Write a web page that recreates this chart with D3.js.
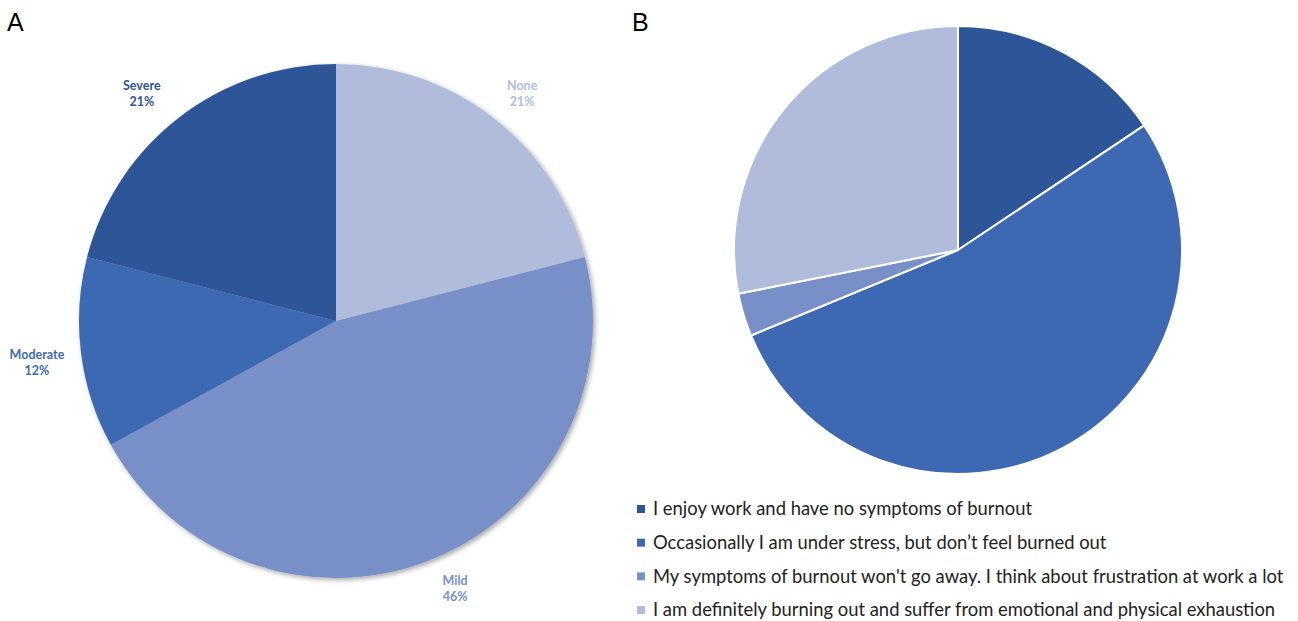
<!DOCTYPE html>
<html>
<head>
<meta charset="utf-8">
<script src="https://cdn.jsdelivr.net/npm/d3@7"></script>
<style>
  html, body { margin: 0; padding: 0; background: #fff; }
  svg { display: block; }
</style>
</head>
<body>
<svg id="chart" width="1298" height="621"></svg>
<script>
// Panel A: burnout severity
const severityCategories = ["None", "Mild", "Moderate", "Severe"];
const severityValues = [21, 46, 12, 21];
const severityColors = ["#B1BCDD", "#798FC8", "#3E69B2", "#2E5597"];

// Panel B: self-reported burnout statements
const statementCategories = [
  "I enjoy work and have no symptoms of burnout",
  "Occasionally I am under stress, but don\u2019t feel burned out",
  "My symptoms of burnout won't go away. I think about frustration at work a lot",
  "I am definitely burning out and suffer from emotional and physical exhaustion"
];
const statementValues = [15.6, 53.1, 3.1, 28.1];
const statementColors = ["#2E5597", "#3E69B2", "#798FC8", "#B1BCDD"];

const svg = d3.select("#chart");

// soft drop shadow used on panel A
const defs = svg.append("defs");
const f = defs.append("filter").attr("id", "shadow")
  .attr("x", "-10%").attr("y", "-10%").attr("width", "120%").attr("height", "120%");
f.append("feGaussianBlur").attr("in", "SourceAlpha").attr("stdDeviation", 2.5).attr("result", "b");
f.append("feOffset").attr("in", "b").attr("dx", 2).attr("dy", 2).attr("result", "o");
f.append("feComponentTransfer").attr("in", "o").attr("result", "s")
  .append("feFuncA").attr("type", "linear").attr("slope", 0.35);
const m = f.append("feMerge");
m.append("feMergeNode").attr("in", "s");
m.append("feMergeNode").attr("in", "SourceGraphic");

const pie = d3.pie().sort(null).value(d => d.v);

// ---- Panel A ----
svg.append("text").attr("x", 7).attr("y", 31)
  .attr("font-family", "Liberation Sans, Arial, sans-serif")
  .attr("font-size", 25).attr("fill", "#000").text("A");

const rA = 257;
const gA = svg.append("g").attr("transform", "translate(336,321)");
const dataA = severityCategories.map((c, i) => ({ c, v: severityValues[i], col: severityColors[i] }));
const arcA = d3.arc().innerRadius(0).outerRadius(rA);
gA.append("g").attr("filter", "url(#shadow)")
  .selectAll("path").data(pie(dataA)).join("path")
  .attr("d", arcA).attr("fill", d => d.data.col);

// outside labels placed near each slice's bisector
const labelRadius = [1.1436, 1.1393, 1.1747, 1.1634];
const labelAngleShift = [1.5, -2.4, -0.7, -2.7]; // degrees
const labelsA = gA.append("g")
  .attr("font-family", "Lato, 'Open Sans', sans-serif")
  .attr("font-weight", "bold").attr("font-size", 12.5)
  .attr("text-anchor", "middle");
pie(dataA).forEach((p, i) => {
  const a = (p.startAngle + p.endAngle) / 2 + labelAngleShift[i] * Math.PI / 180;
  const rr = rA * labelRadius[i];
  const x = Math.sin(a) * rr, y = -Math.cos(a) * rr;
  const t = labelsA.append("text").attr("fill", p.data.col)
    .attr("transform", `translate(${x},${y})`);
  t.append("tspan").attr("x", 0).attr("dy", "-0.3em").text(p.data.c);
  t.append("tspan").attr("x", 0).attr("dy", "1.3em").text(p.data.v + "%");
});

// ---- Panel B ----
svg.append("text").attr("x", 632).attr("y", 31)
  .attr("font-family", "Liberation Sans, Arial, sans-serif")
  .attr("font-size", 25).attr("fill", "#000").text("B");

const rB = 224;
const gB = svg.append("g").attr("transform", "translate(958,250)");
const dataB = statementCategories.map((c, i) => ({ c, v: statementValues[i], col: statementColors[i] }));
const arcB = d3.arc().innerRadius(0).outerRadius(rB);
gB.selectAll("path").data(pie(dataB)).join("path")
  .attr("d", arcB).attr("fill", d => d.data.col)
  .attr("stroke", "#fff").attr("stroke-width", 2).attr("stroke-linejoin", "round");

// legend
const legendY = d3.scalePoint().domain(statementCategories).range([509, 610]);
const leg = svg.append("g")
  .attr("font-family", "Lato, 'Open Sans', sans-serif")
  .attr("font-size", 18.4).attr("fill", "#222");
dataB.forEach(d => {
  const y = legendY(d.c);
  leg.append("rect").attr("x", 637).attr("y", y - 4).attr("width", 8).attr("height", 8).attr("fill", d.col);
  leg.append("text").attr("x", 653).attr("y", y).attr("dy", "0.35em").text(d.c);
});
</script>
</body>
</html>
